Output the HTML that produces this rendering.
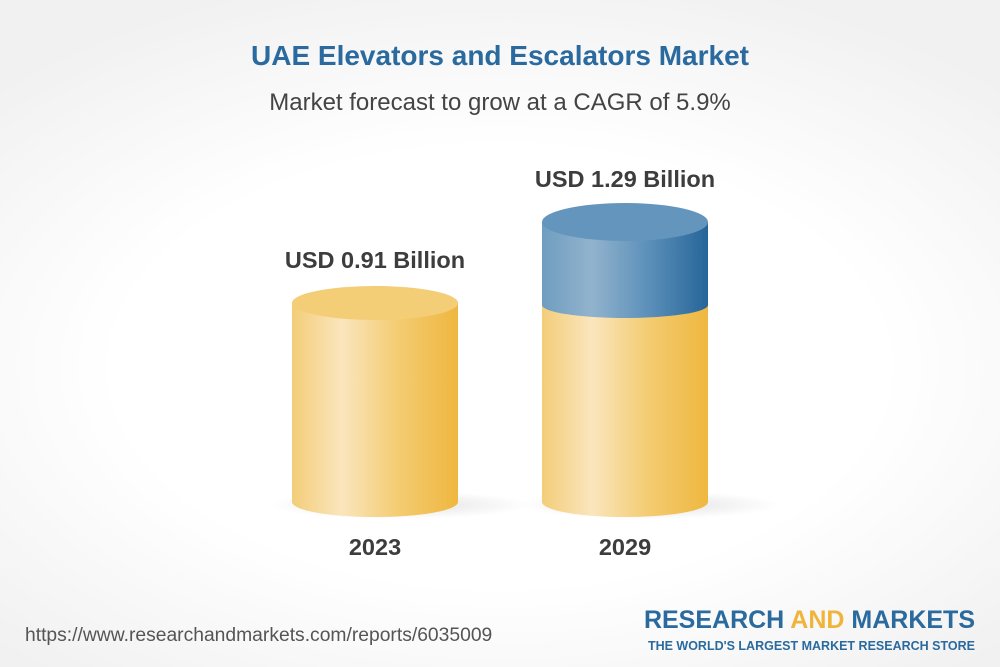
<!DOCTYPE html>
<html><head><meta charset="utf-8"><style>
html,body{margin:0;padding:0}
body{width:1000px;height:667px;overflow:hidden;font-family:"Liberation Sans",Arial,sans-serif;background:radial-gradient(ellipse 70% 60% at 50% 55%,#fff 55%,#f1f1f1 100%);position:relative}
.t{position:absolute;left:0;width:1000px;text-align:center}
</style></head><body>
<div class="t" style="top:40px;font-size:28px;font-weight:bold;color:#2a6a9e">UAE Elevators and Escalators Market</div>
<div class="t" style="top:89px;font-size:24px;color:#444">Market forecast to grow at a CAGR of 5.9%</div>
<svg width="1000" height="667" style="position:absolute;left:0;top:0">
<defs>
<linearGradient id="y" x1="0" x2="1"><stop offset="0" stop-color="#f3cd78"/><stop offset="0.3" stop-color="#fae5bd"/><stop offset="0.65" stop-color="#f3cb70"/><stop offset="1" stop-color="#efb73f"/></linearGradient>
<linearGradient id="b" x1="0" x2="1"><stop offset="0" stop-color="#6f9dc0"/><stop offset="0.3" stop-color="#92b3cd"/><stop offset="0.65" stop-color="#5a8fb9"/><stop offset="1" stop-color="#266599"/></linearGradient>
<radialGradient id="sh"><stop offset="0" stop-color="#000" stop-opacity="0.12"/><stop offset="1" stop-color="#000" stop-opacity="0"/></radialGradient>
</defs>
<ellipse cx="400" cy="505" rx="130" ry="14" fill="url(#sh)"/>
<ellipse cx="650" cy="505" rx="130" ry="14" fill="url(#sh)"/>
<path d="M292 303 V502 A83 15 0 0 0 458 502 V303 Z" fill="url(#y)"/>
<ellipse cx="375" cy="303" rx="83" ry="17" fill="#f4cd77"/>
<path d="M542 305 V502 A83 15 0 0 0 708 502 V305 Z" fill="url(#y)"/>
<path d="M542 222 V305 A83 13 0 0 0 708 305 V222 Z" fill="url(#b)"/>
<ellipse cx="625" cy="222" rx="83" ry="19" fill="#6496bd"/>
<g font-weight="bold" font-size="23.5" fill="#3d3d3d" text-anchor="middle">
<text x="375" y="268">USD 0.91 Billion</text>
<text x="625" y="187">USD 1.29 Billion</text>
<text x="375" y="555">2023</text>
<text x="625" y="555">2029</text>
</g>
<text x="25" y="641" font-size="19.3" fill="#555">https://www.researchandmarkets.com/reports/6035009</text>
<text x="975" y="628" font-size="25" font-weight="bold" text-anchor="end" fill="#2a6a9e">RESEARCH <tspan fill="#f0b43c">AND</tspan> MARKETS</text>
<text x="975" y="650" font-size="12.5" font-weight="bold" text-anchor="end" fill="#2a6a9e">THE WORLD'S LARGEST MARKET RESEARCH STORE</text>
</svg>
</body></html>
